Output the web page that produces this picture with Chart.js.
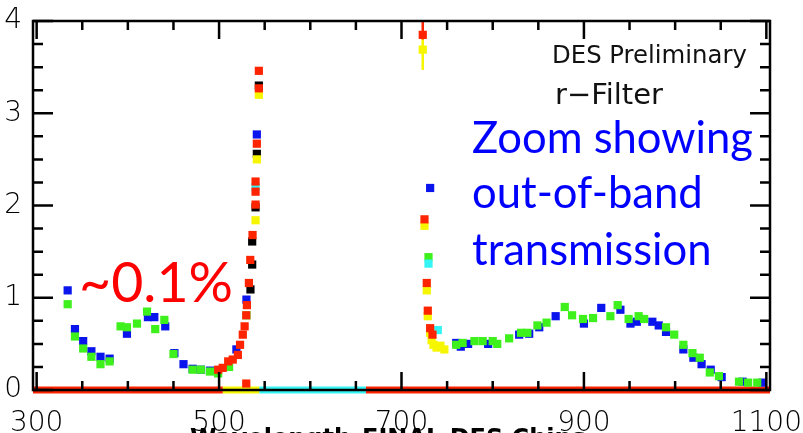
<!DOCTYPE html>
<html>
<head>
<meta charset="utf-8">
<title>r-Filter out-of-band transmission</title>
<script src="https://cdn.jsdelivr.net/npm/chart.js@4/dist/chart.umd.min.js"></script>
<style>
  html, body { margin: 0; padding: 0; background: #fff; }
  #chart { display: block; }
</style>
</head>
<body>
<canvas id="chart" width="803" height="433"></canvas>
<script>
// wavelength [nm], transmission [%] per colour series
const bluePoints = [
    [334, 1.08], [342, 0.66], [351, 0.53], [360, 0.42], [370, 0.36], [380, 0.34],
    [399, 0.61], [422, 0.79], [429, 0.79], [441, 0.69], [451, 0.40], [461, 0.28],
    [471, 0.23], [480, 0.22], [490, 0.21], [519, 0.44], [530, 0.98], [541.4, 2.77],
    [731.4, 2.19], [760, 0.51], [765, 0.47], [773, 0.50], [795, 0.50], [829, 0.60],
    [840, 0.61], [851, 0.68], [869, 0.80], [900, 0.72], [919, 0.89], [940, 0.87],
    [951, 0.72], [958, 0.74], [975, 0.74], [982, 0.70], [990, 0.63], [1009, 0.44],
    [1020, 0.35], [1029, 0.28], [1039, 0.22], [1051, 0.14], [1074, 0.09], [1096, 0.08]
];
const greenPoints = [
    [334, 0.93], [342, 0.58], [351, 0.45], [360, 0.36], [370, 0.28], [380, 0.31],
    [392, 0.69], [399, 0.68], [410, 0.72], [421, 0.85], [430, 0.66], [440, 0.76],
    [450, 0.39], [471, 0.22], [480, 0.22], [490, 0.20], [499, 0.18], [511, 0.25],
    [530, 0.81], [729.6, 1.44], [760, 0.49], [767, 0.51], [780, 0.53], [789, 0.53],
    [800, 0.53], [805, 0.50], [818, 0.56], [831, 0.62], [838, 0.62], [849, 0.70],
    [859, 0.73], [879, 0.90], [887, 0.81], [899, 0.77], [910, 0.78], [929, 0.80],
    [937, 0.92], [949, 0.77], [960, 0.80], [966, 0.77], [990, 0.68], [999, 0.60],
    [1009, 0.49], [1019, 0.40], [1027, 0.35], [1038, 0.19], [1048, 0.15], [1070, 0.09],
    [1080, 0.08], [1090, 0.08]
];
const redPoints = [
    [499, 0.22], [504, 0.24], [510, 0.31], [515, 0.33], [520.6, 0.38], [523, 0.49],
    [526, 0.60], [528, 0.69], [529.8, 0.81], [530.5, 0.92], [532.7, 1.16], [534.2, 1.41],
    [536.7, 1.68], [540, 2.01], [540, 2.15], [540, 2.26], [541.4, 2.67], [543.6, 3.27],
    [543.6, 3.46], [529.8, 0.07],
    [723.3, 3.85], [725.2, 1.85], [727.7, 1.16], [728.8, 0.86], [731.4, 0.67], [734, 0.60]
];
const blackPoints = [
    [543.6, 3.30], [541.4, 2.56], [540, 1.98], [536.3, 1.61], [536.3, 1.36], [534.4, 1.09]
];
const yellowPoints = [
    [543.6, 3.20], [541.4, 2.50], [540, 1.84],
    [723.3, 3.69], [725.2, 1.78], [727.7, 1.08], [728.8, 0.80], [731.4, 0.62],
    [733, 0.54], [735, 0.49], [738.4, 0.46], [742.7, 0.48], [747, 0.44]
];
const cyanPoints = [[540, 2.20], [729.6, 1.37], [739.8, 0.65]];

// error bars at the 723 nm leak: [wavelength, low, high]
const redErrors = [[723.3, 3.80, 4.0]];
const yellowErrors = [[723.3, 3.47, 3.87]];

// colour of the zero-transmission points along the baseline: [from, to]
const zeroRed = [[296, 504], [661, 1104]];
const zeroYellow = [[504, 544]];
const zeroCyan = [[544, 661]];

const xTickValues = [];
for (let v = 300; v <= 1100; v += 50) xTickValues.push(v);
const xLabelValues = [300, 500, 700, 900, 1100];

const BLUE = '#0a14ec';
const GREEN = '#3ef01c';
const RED = '#ff2400';
const YELLOW = '#f6f600';
const CYAN = '#34f4f4';

function toXY(list) {
    return list.map(p => ({x: p[0], y: p[1]}));
}

function markers(label, list, color) {
    return {
        label: label,
        data: toXY(list),
        backgroundColor: color,
        borderWidth: 0,
        pointStyle: 'rect',
        pointRadius: 5.8,
        showLine: false
    };
}

function segments(label, ranges, color, width) {
    return ranges.map(r => ({
        label: label,
        type: 'line',
        data: [{x: r[0], y: 0}, {x: r[1], y: 0}],
        borderColor: color,
        borderWidth: width,
        borderCapStyle: 'butt',
        pointRadius: 0,
        clip: false
    }));
}

function errorBars(label, list, color) {
    return list.map(e => ({
        label: label,
        type: 'line',
        data: [{x: e[0], y: e[1]}, {x: e[0], y: e[2]}],
        borderColor: color,
        borderWidth: 2.5,
        pointRadius: 0
    }));
}

function fitText(ctx, text, x, baseline, width, family, weight) {
    ctx.font = weight + ' 100px ' + family;
    const size = 100 * width / ctx.measureText(text).width;
    ctx.font = weight + ' ' + size + 'px ' + family;
    ctx.fillText(text, x, baseline);
    return size;
}

// frame with inward ticks on all four sides, then the text notes
const frameTicks = {
    id: 'frameTicks',
    afterDatasetsDraw(chart) {
        const {ctx, chartArea: a, scales: {x, y}} = chart;
        ctx.save();
        ctx.strokeStyle = '#000';
        ctx.lineWidth = 2.5;
        ctx.strokeRect(a.left, a.top, a.right - a.left, a.bottom - a.top);
        ctx.beginPath();
        x.ticks.forEach(t => {
            const px = x.getPixelForValue(t.value);
            const len = xLabelValues.includes(t.value) ? 18 : 9;
            ctx.moveTo(px, a.bottom); ctx.lineTo(px, a.bottom - len);
            ctx.moveTo(px, a.top); ctx.lineTo(px, a.top + len);
        });
        y.ticks.forEach(t => {
            const py = y.getPixelForValue(t.value);
            const len = Number.isInteger(t.value) ? 20 : 10;
            ctx.moveTo(a.left, py); ctx.lineTo(a.left + len, py);
            ctx.moveTo(a.right, py); ctx.lineTo(a.right - len, py);
        });
        ctx.stroke();
        ctx.restore();
    },
    afterDraw(chart) {
        const ctx = chart.ctx;
        ctx.save();
        ctx.textBaseline = 'alphabetic';
        ctx.fillStyle = '#111';
        fitText(ctx, 'DES Preliminary', 552, 63, 195, '"DejaVu Sans"', '400');
        fitText(ctx, 'r\u2212Filter', 555, 104, 108, '"DejaVu Sans"', '400');

        ctx.fillStyle = '#0000ff';
        const size = fitText(ctx, 'Zoom showing', 472, 153, 281, 'Lato', '400');
        ctx.font = '400 ' + size + 'px Lato';
        ctx.fillText('out-of-band', 472, 208);
        ctx.fillText('transmission', 472, 265);

        ctx.fillStyle = '#ff0000';
        fitText(ctx, '~0.1%', 79, 302, 154, 'Lato', '400');

        // axis title, mostly below the bottom edge
        ctx.fillStyle = '#000';
        ctx.font = 'bold 24px "DejaVu Sans"';
        ctx.fillText('Wavelength', 190, 446);
        ctx.fillText('FINAL DES Chips', 362, 446);
        ctx.restore();
    }
};

const datasets = [
    ...errorBars('red error', redErrors, RED),
    markers('red', redPoints, RED),
    ...errorBars('yellow error', yellowErrors, YELLOW),
    markers('yellow', yellowPoints, YELLOW),
    markers('cyan', cyanPoints, CYAN),
    markers('black', blackPoints, '#000'),
    markers('green', greenPoints, GREEN),
    markers('blue', bluePoints, BLUE),
    ...segments('zero red', zeroRed, RED, 7),
    ...segments('zero yellow', zeroYellow, YELLOW, 7),
    ...segments('zero cyan', zeroCyan, CYAN, 7)
];

const labelFont = {family: '"DejaVu Sans"', size: 28, weight: '200'};

new Chart(document.getElementById('chart'), {
    type: 'scatter',
    data: {datasets: datasets},
    plugins: [frameTicks],
    options: {
        responsive: false,
        animation: false,
        events: [],
        layout: {padding: {top: 21, right: 33, left: 0, bottom: 0}},
        plugins: {legend: {display: false}, tooltip: {enabled: false}},
        scales: {
            x: {
                type: 'linear',
                min: 296,
                max: 1104,
                grid: {display: false, drawTicks: false},
                border: {display: false},
                afterBuildTicks(scale) {
                    scale.ticks = xTickValues.map(v => ({value: v}));
                },
                afterFit(scale) {
                    scale.height = 43;
                    scale.paddingLeft = 0;
                    scale.paddingRight = 0;
                },
                ticks: {
                    autoSkip: false,
                    maxRotation: 0,
                    padding: 17,
                    color: '#000',
                    font: labelFont,
                    callback: v => xLabelValues.includes(v) ? String(v) : ''
                }
            },
            y: {
                min: 0,
                max: 4,
                grid: {display: false, drawTicks: false},
                border: {display: false},
                afterFit(scale) {
                    scale.width = 33;
                    scale.paddingTop = 0;
                    scale.paddingBottom = 0;
                },
                ticks: {
                    stepSize: 0.25,
                    autoSkip: false,
                    padding: 11,
                    color: '#000',
                    font: labelFont,
                    callback: v => Number.isInteger(v) ? String(v) : ''
                }
            }
        }
    }
});
</script>
</body>
</html>
